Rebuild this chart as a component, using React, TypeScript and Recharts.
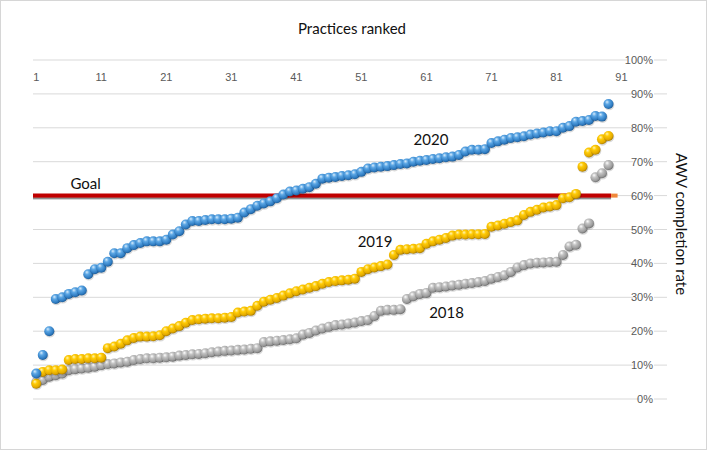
import { ScatterChart, Scatter, XAxis, YAxis, CartesianGrid, ReferenceDot } from "recharts";

// practice rank ticks along the top, completion rate ticks on the right
const rankTicks = [1, 11, 21, 31, 41, 51, 61, 71, 81, 91];
const rateTicks = [0, 10, 20, 30, 40, 50, 60, 70, 80, 90, 100];

// AWV completion rate (%) per practice, ranked low to high
const rate2020 = [
  7.5, 13, 20, 29.5, 30, 31, 31.5, 32, 36.8, 38.3,
  38.7, 40.5, 43, 43, 44.5, 45.4, 46, 46.5, 46.5, 46.5,
  47, 48.5, 49.5, 51.5, 52.5, 52.5, 52.8, 53, 53, 53,
  53.2, 53.5, 55, 56, 57, 57.7, 58.3, 59.2, 60.3, 61.2,
  61.5, 62, 62.5, 63.5, 65, 65.3, 65.5, 65.8, 66, 66.3,
  67, 68, 68.3, 68.5, 68.7, 69, 69.3, 69.5, 70, 70.3,
  70.5, 70.8, 71, 71.3, 71.5, 72, 73, 73.5, 73.5, 73.7,
  75.5, 76, 76.5, 77, 77.2, 77.5, 78, 78.3, 78.6, 79,
  79, 80, 80.5, 81.8, 82, 82.3, 83.5, 83.3, 87,
];

const rate2019 = [
  4.5, 8, 8.5, 8.5, 8.7, 11.5, 11.8, 11.8, 12, 12,
  12.2, 15, 15.5, 16.3, 17.3, 18, 18.4, 18.4, 18.5, 18.8,
  20, 20.8, 21.5, 22.5, 23.3, 23.5, 23.7, 23.8, 23.8, 24,
  24.2, 25.5, 25.8, 26, 27.5, 28.7, 29.3, 29.8, 30.5, 31.2,
  31.8, 32.3, 32.8, 33.3, 34, 34.5, 34.8, 35, 35.2, 35.5,
  37.5, 38.3, 38.8, 39.2, 39.7, 42.5, 44, 44.2, 44.3, 44.5,
  45.8, 46.5, 47, 47.5, 48.2, 48.5, 48.5, 48.6, 48.6, 48.7,
  50.8, 51.2, 51.7, 52.2, 52.7, 54.3, 55.2, 55.8, 56.5, 56.8,
  57.2, 59.2, 59.5, 60.5, 68.5, 72.7, 73.5, 76.6, 77.6,
];

const rate2018 = [
  5, 5.6, 6.6, 7, 7.5, 8.5, 8.8, 9, 9.2, 9.5,
  10, 10.3, 10.5, 10.8, 11, 11.5, 11.8, 12, 12, 12.2,
  12.3, 12.5, 12.8, 13, 13.2, 13.3, 13.5, 13.8, 14, 14.2,
  14.3, 14.5, 14.6, 14.8, 15, 16.8, 17, 17.2, 17.4, 17.6,
  17.9, 19, 19.5, 20.2, 20.8, 21.3, 21.8, 22, 22.3, 22.6,
  23, 23.3, 24.5, 26, 26.3, 26.3, 26.5, 29.5, 30.3, 31,
  31.3, 32.8, 33, 33.2, 33.5, 33.7, 34, 34.2, 34.5, 34.8,
  35.5, 36, 36.5, 37.5, 38.8, 39.5, 40, 40.2, 40.3, 40.4,
  40.5, 42.5, 45, 45.5, 50.3, 51.8, 65.4, 66.6, 69,
];

const goalRate = 60;
const goalSpan = [0.5, 89.4];
const goalTail = [89.4, 90.4];

const seriesLabels = [
  { text: "2020", rank: 61.7, rate: 76.4 },
  { text: "2019", rank: 53.1, rate: 46.3 },
  { text: "2018", rank: 64.1, rate: 25.4 },
  { text: "Goal", rank: 8.6, rate: 63.4 },
];

const toPoints = (vals: number[]) => vals.map((v, i) => ({ rank: i + 1, rate: v }));
const toGoal = (span: number[]) => span.map((r) => ({ rank: r, rate: goalRate }));

const Sphere = (props: any) => {
  const { cx, cy, grad } = props;
  if (cx == null || cy == null) return <g />;
  return (
    <g>
      <circle cx={cx + 0.6} cy={cy + 1} r={5.3} fill="rgba(0,0,0,0.15)" />
      <circle cx={cx} cy={cy} r={5} fill={`url(#${grad})`} />
    </g>
  );
};

const renderRankTick = (props: any) => (
  <text x={props.x} y={81} textAnchor="middle" fontSize={11} fontFamily="Liberation Sans" fill="#595959">
    {props.payload.value}
  </text>
);

const renderRateTick = (props: any) => {
  const label = `${props.payload.value}%`;
  const w = label.length * 6.2;
  return (
    <g>
      <rect x={653 - w - 1} y={props.y - 6} width={w + 2} height={12} fill="#fff" />
      <text x={653} y={props.y} dy={4} textAnchor="end" fontSize={11} fontFamily="Liberation Sans" fill="#595959">
        {label}
      </text>
    </g>
  );
};

const Gradients = () => (
  <svg width="0" height="0" style={{ position: "absolute" }}>
    <defs>
      <radialGradient id="sphBlue" cx="0.42" cy="0.38" r="0.62" fx="0.35" fy="0.28">
        <stop offset="0" stopColor="#d8ecfc" />
        <stop offset="0.35" stopColor="#5ba6e4" />
        <stop offset="0.8" stopColor="#2f7cc2" />
        <stop offset="1" stopColor="#1f5c96" />
      </radialGradient>
      <radialGradient id="sphGold" cx="0.42" cy="0.38" r="0.62" fx="0.35" fy="0.28">
        <stop offset="0" stopColor="#fff5b5" />
        <stop offset="0.35" stopColor="#ffcb05" />
        <stop offset="0.8" stopColor="#e3aa00" />
        <stop offset="1" stopColor="#a97c00" />
      </radialGradient>
      <radialGradient id="sphGray" cx="0.42" cy="0.38" r="0.62" fx="0.35" fy="0.28">
        <stop offset="0" stopColor="#ffffff" />
        <stop offset="0.35" stopColor="#c2c2c2" />
        <stop offset="0.8" stopColor="#9a9a9a" />
        <stop offset="1" stopColor="#6e6e6e" />
      </radialGradient>
      <filter id="goalShadow" filterUnits="userSpaceOnUse" x="0" y="0" width="709" height="451">
        <feDropShadow dx="0" dy="1.6" stdDeviation="0.7" floodColor="#000" floodOpacity="0.55" />
      </filter>
    </defs>
  </svg>
);

export default function App() {
  return (
    <div style={{ position: "relative", width: 709, height: 451, background: "#fff", fontFamily: "Lato" }}>
      <style>{`body{margin:0}`}</style>
      <Gradients />
      <div
        style={{
          position: "absolute", left: 0, top: 0, width: 707, height: 450,
          border: "1px solid #d6d6d6", boxSizing: "border-box",
        }}
      />
      <div style={{ position: "absolute", left: 0, width: 704, top: 19, textAlign: "center", fontSize: 15, lineHeight: "18px", color: "#111" }}>
        Practices ranked
      </div>
      <div
        style={{
          position: "absolute", left: 673, top: 153, width: 18, height: 150,
          writingMode: "vertical-rl", fontSize: 15, lineHeight: "18px", color: "#111",
        }}
      >
        AWV completion rate
      </div>
      <ScatterChart width={709} height={451} margin={{ top: 40, right: 2, bottom: 52, left: 33 }}>
        <CartesianGrid vertical={false} stroke="#d9d9d9" />
        <XAxis
          type="number"
          dataKey="rank"
          orientation="top"
          domain={[0.5, 98]}
          ticks={rankTicks}
          interval={0}
          height={20}
          axisLine={false}
          tickLine={false}
          tick={renderRankTick}
        />
        <YAxis
          type="number"
          dataKey="rate"
          orientation="right"
          domain={[0, 100]}
          ticks={rateTicks}
          interval={0}
          width={40}
          axisLine={false}
          tickLine={false}
          tick={renderRateTick}
        />
        <Scatter
          data={toGoal(goalSpan)}
          line={{ stroke: "#c00000", strokeWidth: 4, filter: "url(#goalShadow)" }}
          shape={() => <g />}
          isAnimationActive={false}
        />
        <Scatter
          data={toGoal(goalTail)}
          line={{ stroke: "#f0883a", strokeWidth: 4 }}
          shape={() => <g />}
          isAnimationActive={false}
        />
        <Scatter data={toPoints(rate2018)} shape={(p: any) => <Sphere {...p} grad="sphGray" />} isAnimationActive={false} />
        <Scatter data={toPoints(rate2019)} shape={(p: any) => <Sphere {...p} grad="sphGold" />} isAnimationActive={false} />
        <Scatter data={toPoints(rate2020)} shape={(p: any) => <Sphere {...p} grad="sphBlue" />} isAnimationActive={false} />
        {seriesLabels.map((l) => (
          <ReferenceDot
            key={l.text}
            x={l.rank}
            y={l.rate}
            r={0}
            fill="none"
            stroke="none"
            label={{ value: l.text, position: "center", fontSize: 15, fill: "#111", fontFamily: "Lato" }}
          />
        ))}
      </ScatterChart>
    </div>
  );
}
